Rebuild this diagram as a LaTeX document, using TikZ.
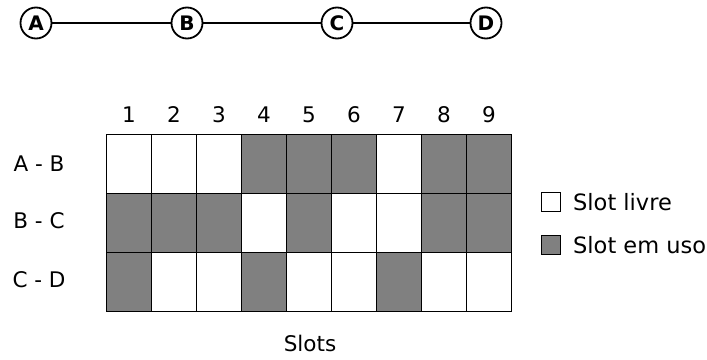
\documentclass[tikz,border=0pt]{standalone}
\usepackage{fontspec}
\setmainfont{DejaVu Sans}
\begin{document}
\begin{tikzpicture}[x=1pt,y=-1pt,
  station/.style={circle,draw,line width=1.8pt,minimum size=31pt,inner sep=0pt,font=\fontsize{20}{20}\selectfont\bfseries},
  link/.style={line width=1.3pt},
  cellfree/.style={draw,line width=1.8pt,fill=white,minimum width=45pt,minimum height=59pt,inner sep=0pt},
  cellused/.style={cellfree,fill=gray50},
  lbl/.style={font=\fontsize{21.5}{21.5}\selectfont,inner sep=0pt},
  leglbl/.style={font=\fontsize{22.5}{22.5}\selectfont,inner sep=0pt,anchor=west},
  legfree/.style={draw,line width=1.8pt,fill=white,minimum width=19pt,minimum height=19pt,inner sep=0pt},
  legused/.style={legfree,fill=gray50}]
\definecolor{gray50}{HTML}{808080}
\useasboundingbox (0,0) rectangle (707,359);
% stations
\node[station] (A) at (36,23) {A};
\node[station] (B) at (187,23) {B};
\node[station] (C) at (337,23) {C};
\node[station] (D) at (486,23) {D};
\draw[link] (A) -- (B);
\draw[link] (B) -- (C);
\draw[link] (C) -- (D);
% grid
\foreach \r/\pat [count=\i] in {0/{0,0,0,1,1,1,0,1,1},1/{1,1,1,0,1,0,0,1,1},2/{1,0,0,1,0,0,1,0,0}}{
  \foreach \v [count=\j] in \pat {
    \ifnum\v=1
      \node[cellused] (c\i\j) at ({106.5+45*(\j-0.5)},{134.5+59*(\r+0.5)}) {};
    \else
      \node[cellfree] (c\i\j) at ({106.5+45*(\j-0.5)},{134.5+59*(\r+0.5)}) {};
    \fi
  }
}
\foreach \j in {1,...,9}{
  \node[lbl] (n\j) at ({106.5+45*(\j-0.5)},115) {\j};
}
\node[lbl] (rAB) at (39,164) {A - B};
\node[lbl] (rBC) at (39,221) {B - C};
\node[lbl] (rCD) at (39,280) {C - D};
\node[lbl] (slots) at (310,343) {Slots};
% legend
\node[legfree] (lf) at (551,202) {};
\node[leglbl] (lft) at (573,202) {Slot livre};
\node[legused] (lu) at (551,245) {};
\node[leglbl] (lut) at (573,245) {Slot em uso};
\end{tikzpicture}
\end{document}
